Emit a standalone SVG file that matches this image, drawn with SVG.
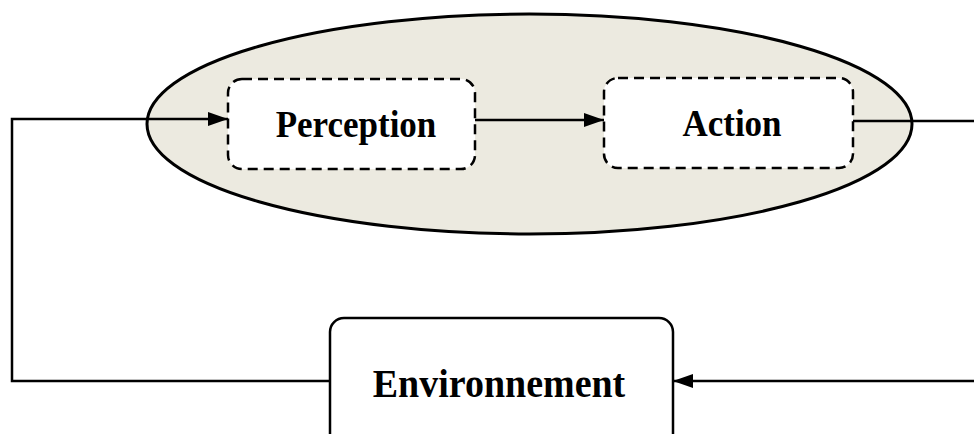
<svg xmlns="http://www.w3.org/2000/svg" width="974" height="434" viewBox="0 0 974 434">
  <defs>
    <marker id="arrow" markerWidth="20" markerHeight="14" refX="20" refY="7" orient="auto" markerUnits="userSpaceOnUse">
      <path d="M0,0 L20,7 L0,14 Z" fill="#000"/>
    </marker>
    <style>
      .lbl { font-family: "Liberation Serif", "Times New Roman", serif; font-weight: bold; fill: #000; text-anchor: middle; }
      .dash { fill: #fff; stroke: #000; stroke-width: 2.5; stroke-dasharray: 10 6; }
      .conn { fill: none; stroke: #000; stroke-width: 2.5; }
    </style>
  </defs>
  <rect width="974" height="434" fill="#fff"/>
  <g id="agent">
    <ellipse cx="529.5" cy="124" rx="382.5" ry="110" fill="#ECEAE0" stroke="#000" stroke-width="3"/>
  </g>
  <g id="perception">
    <rect class="dash" x="228" y="79" width="247" height="90" rx="14"/>
    <text class="lbl" transform="translate(356,137) scale(1,1.1)" font-size="35">Perception</text>
  </g>
  <g id="action">
    <rect class="dash" x="604" y="78" width="249" height="90" rx="14"/>
    <text class="lbl" transform="translate(732,136) scale(1,1.1)" font-size="35">Action</text>
  </g>
  <g id="environnement">
    <rect x="330" y="318" width="343" height="140" rx="14" fill="#fff" stroke="#000" stroke-width="2.5"/>
    <text class="lbl" transform="translate(499,397) scale(1,1.08)" font-size="38">Environnement</text>
  </g>
  <g id="connectors">
    <polyline class="conn" points="330,381 12,381 12,119 228,119" marker-end="url(#arrow)"/>
    <line class="conn" x1="475" y1="120" x2="604" y2="120" marker-end="url(#arrow)"/>
    <polyline class="conn" points="853,121 974,121"/>
    <line class="conn" x1="974" y1="381" x2="673" y2="381" marker-end="url(#arrow)"/>
  </g>
</svg>
